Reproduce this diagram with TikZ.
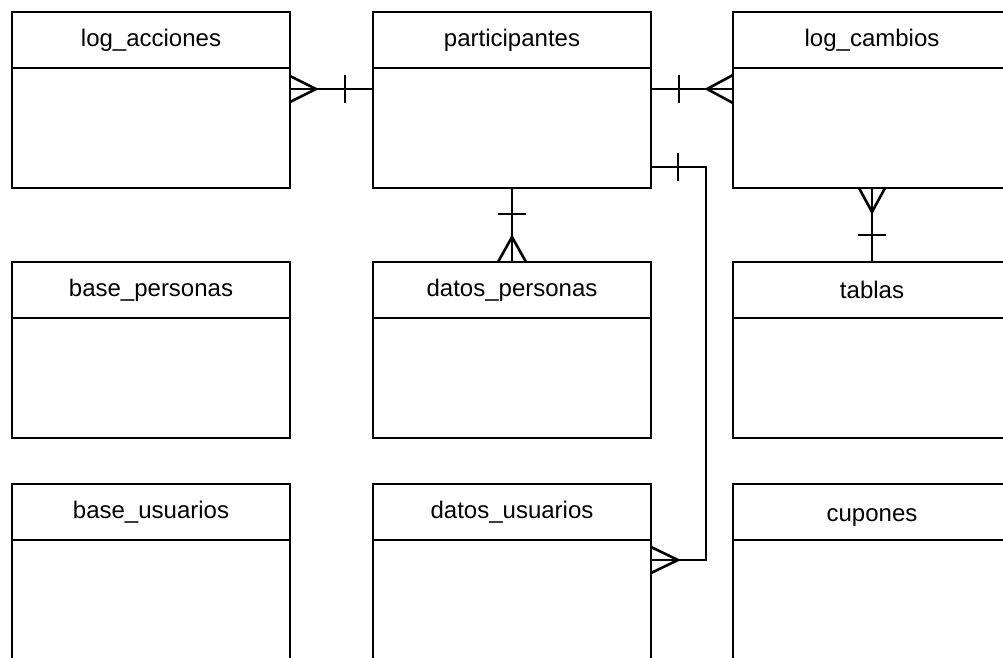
\documentclass[tikz,border=0pt]{standalone}
\usepackage{fontspec}
\setmainfont{Liberation Sans}
\usetikzlibrary{positioning}

\begin{document}
\begin{tikzpicture}[x=1pt, y=-1pt, line width=2.6pt,
  cab/.style={draw, minimum width=278pt, minimum height=56pt, inner sep=0pt, outer sep=0pt, text height=17pt, text depth=5pt, font=\fontsize{24}{28}\selectfont},
  cuerpo/.style={draw, minimum width=278pt, minimum height=120pt, inner sep=0pt, outer sep=0pt}]
\useasboundingbox (0,0) rectangle (1003,657);
\clip (0,0) rectangle (1003,657);

% tablas: cabecera y cuerpo
\node[cab] (acc) at (151,40) {log\_acciones};
\node[cuerpo, below=0pt of acc] (acc-b) {};
\node[cab] (par) at (512,40) {participantes};
\node[cuerpo, below=0pt of par] (par-b) {};
\node[cab] (cam) at (872,40) {log\_cambios};
\node[cuerpo, below=0pt of cam] (cam-b) {};

\node[cab] (bper) at (151,290) {base\_personas};
\node[cuerpo, below=0pt of bper] (bper-b) {};
\node[cab] (dper) at (512,290) {datos\_personas};
\node[cuerpo, below=0pt of dper] (dper-b) {};
\node[cab] (tab) at (872,290) {\raisebox{-2pt}{tablas}};
\node[cuerpo, below=0pt of tab] (tab-b) {};

\node[cab] (busr) at (151,512) {base\_usuarios};
\node[cuerpo, below=0pt of busr] (busr-b) {};
\node[cab] (dusr) at (512,512) {datos\_usuarios};
\node[cuerpo, below=0pt of dusr] (dusr-b) {};
\node[cab] (cup) at (872,512) {\raisebox{-3pt}{cupones}};
\node[cuerpo, below=0pt of cup] (cup-b) {};

% relaciones
\coordinate (a1) at ([yshift=39pt]acc-b.east);
\coordinate (a2) at ([yshift=39pt]par-b.west);
\draw (a1) -- (a2);
\draw (a1) ++(0,-13) -- ++(26,13) -- ++(-26,13);
\draw ([xshift=-28pt]a2) ++(0,-14) -- ++(0,28);

\coordinate (c1) at ([yshift=39pt]par-b.east);
\coordinate (c2) at ([yshift=39pt]cam-b.west);
\draw (c1) -- (c2);
\draw ([xshift=28pt]c1) ++(0,-14) -- ++(0,28);
\draw (c2) ++(0,-14) -- ++(-26,14) -- ++(26,14);

\draw (par-b.south) -- (dper.north);
\draw ([yshift=-26pt]par-b.south) ++(-14,0) -- ++(28,0);
\draw (dper.north) ++(-14,0) -- ++(14,-25) -- ++(14,25);

\draw (cam-b.south) -- (tab.north);
\draw (cam-b.south) ++(-13,0) -- ++(13,24) -- ++(13,-24);
\draw ([yshift=27pt]tab.north) ++(-14,0) -- ++(28,0);

\coordinate (u1) at ([yshift=-39pt]par-b.east);
\coordinate (u2) at ([yshift=40pt]dusr-b.east);
\draw (u1) -- ++(55,0) |- (u2);
\draw ([xshift=27pt]u1) ++(0,-14) -- ++(0,28);
\draw (u2) ++(0,-13) -- ++(27,13) -- ++(-27,13);
\end{tikzpicture}
\end{document}
